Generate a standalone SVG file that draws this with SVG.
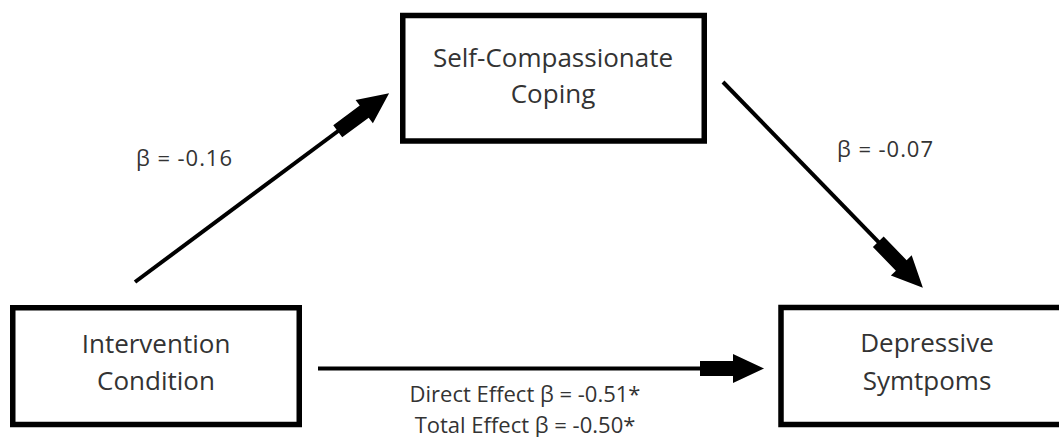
<svg xmlns="http://www.w3.org/2000/svg" width="1059" height="437" viewBox="0 0 1059 437">
<style>
.box{fill:#fff;stroke:#000;stroke-width:5.5}
.nt{font-family:"Open Sans","Liberation Sans",sans-serif;font-size:26px;fill:#333;text-anchor:middle}
.lb{font-family:"Open Sans","Liberation Sans",sans-serif;font-size:22px;fill:#333}
.cn{stroke:#000;stroke-width:4;fill:none;marker-end:url(#ah)}
</style>
<defs>
<marker id="ah" markerUnits="userSpaceOnUse" viewBox="-70 -16 72 32" markerWidth="72" markerHeight="32" refX="-40" refY="0" orient="auto">
<path d="M-64,-7.5 H-31 V-14.5 L0,0 L-31,14.5 V7.5 H-64 Z" fill="#000"/>
</marker>
</defs>
<rect width="1059" height="437" fill="#fff"/>
<g id="connectors">
<line class="cn" x1="135" y1="282" x2="357" y2="117"/>
<line class="cn" x1="723" y1="82" x2="895" y2="259"/>
<line class="cn" x1="318" y1="368.5" x2="724" y2="368.5"/>
</g>
<g id="labels">
<text class="lb" x="136" y="166" textLength="96" lengthAdjust="spacing">β = -0.16</text>
<text class="lb" x="837" y="157" textLength="96" lengthAdjust="spacing">β = -0.07</text>
<text class="lb" x="525" y="402" text-anchor="middle">Direct Effect β = -0.51*</text>
<text class="lb" x="525" y="433" text-anchor="middle">Total Effect β = -0.50*</text>
</g>
<g id="node-coping">
<rect class="box" x="402.75" y="15.5" width="301.5" height="125.5"/>
<text class="nt" x="553" y="67">Self-Compassionate</text>
<text class="nt" x="553" y="103">Coping</text>
</g>
<g id="node-intervention">
<rect class="box" x="12.75" y="307.75" width="286.5" height="116.75"/>
<text class="nt" x="156" y="353">Intervention</text>
<text class="nt" x="156" y="390">Condition</text>
</g>
<g id="node-depressive">
<rect class="box" x="781" y="307.5" width="300" height="117"/>
<text class="nt" x="927" y="352">Depressive</text>
<text class="nt" x="927" y="390">Symtpoms</text>
</g>
</svg>
